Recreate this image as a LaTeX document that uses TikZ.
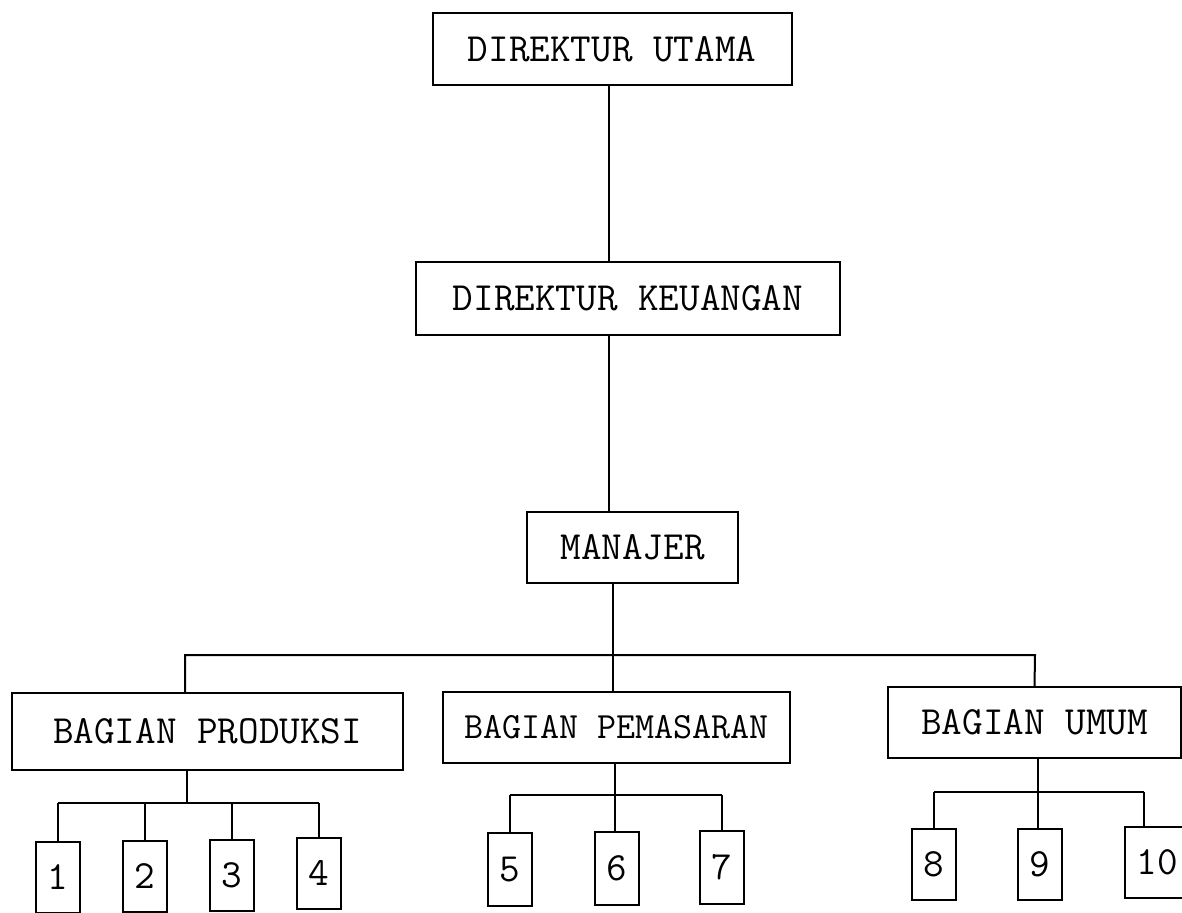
\documentclass[tikz,border=0pt]{standalone}
\usepackage{fontspec}

\newcommand{\unitfont}{\ttfamily\fontsize{20}{22}\selectfont}
\newcommand{\smallunitfont}{\ttfamily\fontsize{18.5}{22}\selectfont}

\begin{document}
\begin{tikzpicture}[
  x=0.5pt, y=-0.5pt,
  unit/.style={draw=black, line width=1pt, inner sep=0pt, font=\unitfont},
  sub/.style={unit, minimum width=22pt, minimum height=35.5pt},
  link/.style={draw=black, line width=1pt}
]
  \useasboundingbox (0,0) rectangle (1182,913);

  % top of the chart
  \node[unit, minimum width=179.5pt, minimum height=36pt] (utama) at (612, 49) {DIREKTUR UTAMA};
  \node[unit, minimum width=212pt, minimum height=36.5pt] (keuangan) at (628, 298.5) {DIREKTUR KEUANGAN};
  \node[unit, minimum width=105.5pt, minimum height=35.5pt] (manajer) at (632.5, 547.5) {MANAJER};

  % departments
  \node[unit, minimum width=195.5pt, minimum height=38.5pt] (produksi) at (207.5, 731.5) {BAGIAN PRODUKSI};
  \node[unit, minimum width=173.5pt, minimum height=35.5pt, font=\smallunitfont] (pemasaran) at (616.5, 727.5) {BAGIAN PEMASARAN};
  \node[unit, minimum width=146.5pt, minimum height=35.5pt] (umum) at (1034.5, 722.5) {BAGIAN UMUM};

  % sections
  \node[sub] (p1) at (58, 877) {1};
  \node[sub] (p2) at (144.5, 876) {2};
  \node[sub] (p3) at (231.5, 875) {3};
  \node[sub] (p4) at (318.5, 873) {4};

  \node[sub, minimum height=36.5pt] (m5) at (510, 869.5) {5};
  \node[sub, minimum height=36.5pt] (m6) at (616.5, 868) {6};
  \node[sub, minimum height=36.5pt] (m7) at (721.5, 867) {7};

  \node[sub] (u8) at (933.5, 864) {8};
  \node[sub] (u9) at (1039.5, 864) {9};
  \node[sub, minimum width=32.5pt] (u10) at (1157.5, 862.5) {10};

  \coordinate (trunk) at (609, 0);
  \coordinate (busl) at (185, 655);
  \coordinate (bus) at (613, 655);
  \coordinate (busr) at (1035, 655);
  \coordinate (pbus) at (187, 803);
  \coordinate (mbus) at (615, 795);
  \coordinate (ubus) at (1038, 792);
  \coordinate (ubusr) at (1144, 792);

  \draw[link] (utama.south -| trunk) -- (keuangan.north -| trunk);
  \draw[link] (keuangan.south -| trunk) -- (manajer.north -| trunk);
  \draw[link] (manajer.south -| bus) -- (pemasaran.north -| bus);
  \draw[link] (produksi.north -| busl) -- (busl) -- (busr) -- (umum.north);

  \draw[link] (produksi.south -| pbus) -- (pbus);
  \draw[link] (p1.north |- pbus) -- (p4.north |- pbus);
  \foreach \n in {p1,p2,p3,p4}
    \draw[link] (\n.north) -- (\n.north |- pbus);

  \draw[link] (pemasaran.south -| mbus) -- (m6.north -| mbus);
  \draw[link] (m5.north |- mbus) -- (m7.north |- mbus);
  \draw[link] (m5.north) -- (m5.north |- mbus);
  \draw[link] (m7.north) -- (m7.north |- mbus);

  \draw[link] (umum.south -| ubus) -- (u9.north -| ubus);
  \draw[link] (u8.north |- ubus) -- (ubusr);
  \draw[link] (u8.north) -- (u8.north |- ubus);
  \draw[link] (ubusr) -- (ubusr |- u10.north);
\end{tikzpicture}
\end{document}
